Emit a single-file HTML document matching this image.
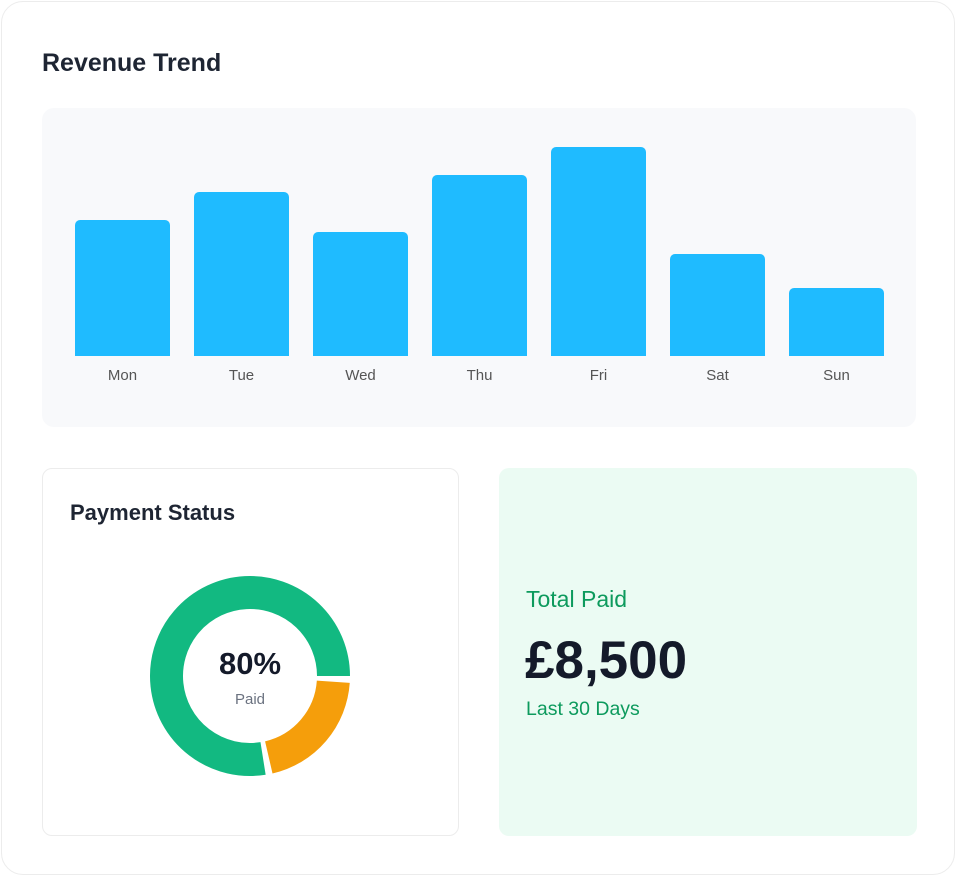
<!DOCTYPE html>
<html><head><meta charset="utf-8"><style>
body{margin:0;width:959px;height:879px;background:#fff;font-family:"Liberation Sans",sans-serif;position:relative;overflow:hidden}
.card{position:absolute;left:1px;top:1px;width:954px;height:874px;border:1px solid #ececec;border-radius:22px;box-sizing:border-box}
.t{position:absolute;white-space:nowrap}
.panel{position:absolute;left:42px;top:108px;width:874px;height:319px;background:#f8f9fb;border-radius:12px}
.bar{position:absolute;width:95px;background:#1fbbff;border-radius:5px 5px 0 0}
.lbl{position:absolute;top:367px;width:95px;text-align:center;font-size:15px;color:#555}
</style></head><body>
<div class="card"></div>
<div class="t" style="left:42px;top:49px;font-size:25px;font-weight:bold;color:#1e2533">Revenue Trend</div>
<div class="panel"></div>
<div class="bar" style="left:75px;top:220px;height:136px"></div>
<div class="bar" style="left:194px;top:192px;height:164px"></div>
<div class="bar" style="left:313px;top:232px;height:124px"></div>
<div class="bar" style="left:432px;top:175px;height:181px"></div>
<div class="bar" style="left:551px;top:147px;height:209px"></div>
<div class="bar" style="left:670px;top:254px;height:102px"></div>
<div class="bar" style="left:789px;top:288px;height:68px"></div>
<div class="lbl" style="left:75px">Mon</div>
<div class="lbl" style="left:194px">Tue</div>
<div class="lbl" style="left:313px">Wed</div>
<div class="lbl" style="left:432px">Thu</div>
<div class="lbl" style="left:551px">Fri</div>
<div class="lbl" style="left:670px">Sat</div>
<div class="lbl" style="left:789px">Sun</div>
<div style="position:absolute;left:42px;top:468px;width:417px;height:368px;border:1px solid #ececec;border-radius:10px;box-sizing:border-box"></div>
<div class="t" style="left:70px;top:500px;font-size:22px;font-weight:bold;color:#1e2533">Payment Status</div>
<svg style="position:absolute;left:0;top:0" width="959" height="879">
<path d="M263.06 758.47 A83.5 83.5 0 1 1 333.5 676" fill="none" stroke="#12b981" stroke-width="33"/>
<path d="M333.3 681.8 A83.5 83.5 0 0 1 268.8 757.4" fill="none" stroke="#f59e0b" stroke-width="33"/>
<text x="250" y="674" text-anchor="middle" font-size="31" font-weight="bold" fill="#141a2a" font-family="Liberation Sans, sans-serif">80%</text>
<text x="250" y="704" text-anchor="middle" font-size="15" fill="#6b7280" font-family="Liberation Sans, sans-serif">Paid</text>
</svg>
<div style="position:absolute;left:499px;top:468px;width:418px;height:368px;background:#ebfbf3;border-radius:10px"></div>
<div class="t" style="left:526px;top:586px;font-size:23px;color:#0d9a5d">Total Paid</div>
<div class="t" style="left:525px;top:630px;font-size:53px;font-weight:bold;color:#141a2a">£8,500</div>
<div class="t" style="left:526px;top:698px;font-size:19.5px;color:#0d9a5d">Last 30 Days</div>
</body></html>
